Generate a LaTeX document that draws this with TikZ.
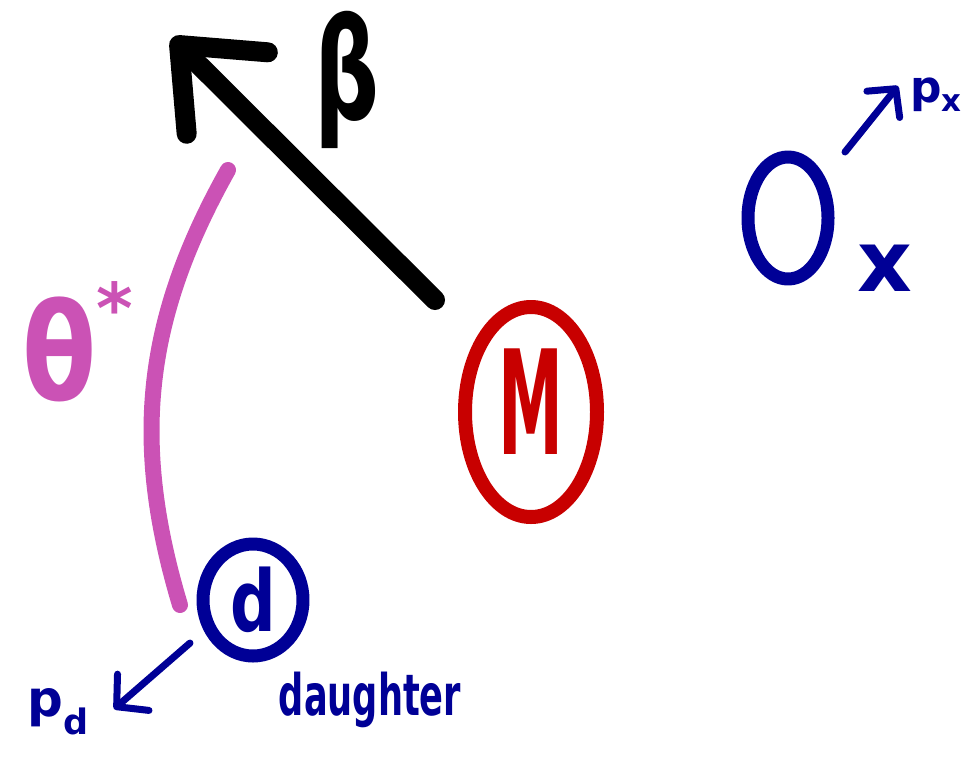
\documentclass[tikz,border=0pt]{standalone}
\usepackage{fontspec}
\setmainfont{DejaVu Sans}
\usetikzlibrary{arrows.meta, positioning, shapes.geometric}
\definecolor{penred}{RGB}{200,0,0}
\definecolor{penblue}{RGB}{0,0,150}
\definecolor{penpink}{RGB}{203,82,181}

\begin{document}
\begin{tikzpicture}[x=1pt, y=-1pt, line cap=round, line join=round,
  blob/.style={draw, ellipse, inner sep=0pt},
  scrawl/.style={inner sep=0pt, font=\bfseries}]

        \useasboundingbox (0,0) rectangle (965,758);

        % Nodes
        \node (M) [blob, penred, line width=14pt, minimum width=132pt, minimum height=210pt,
                   font=\bfseries\fontsize{145}{145}\selectfont] at (531,412) {\raisebox{20pt}{\scalebox{0.45}[1]{M}}};
        \node (d) [blob, penblue, line width=13pt, minimum width=100pt, minimum height=112pt,
                   font=\bfseries\fontsize{85}{85}\selectfont] at (253,600) {\scalebox{0.75}[1]{d}};
        \node (X) [blob, penblue, line width=13pt, minimum width=80pt, minimum height=122pt] at (788,218) {};

        % Free ends
        \coordinate (betatail) at (435,300);
        \coordinate (betahead) at (172,38);
        \coordinate (thtop) at (228,170);
        \coordinate (thbottom) at (180,605);
        \coordinate (pdtail) at (190,643);
        \coordinate (pdhead) at (114,709);
        \coordinate (pxtail) at (845,152);
        \coordinate (pxhead) at (898,86);

        % Labels
        \node (beta) [scrawl, font=\bfseries\fontsize{140}{140}\selectfont] at (347,80) {\scalebox{0.65}[1]{β}};
        \node (theta) [scrawl, penpink, font=\bfseries\fontsize{135}{135}\selectfont] at (78,342) {\scalebox{0.8}[1]{θ}\raisebox{0.5em}{\fontsize{70}{70}\selectfont*}};
        \node (pd) [scrawl, penblue, font=\bfseries\fontsize{50}{50}\selectfont] at (58,712) {p\textsubscript{d}};
        \node (px) [scrawl, penblue, font=\bfseries\fontsize{44}{44}\selectfont] at (936,95) {p\textsubscript{x}};
        \node (xlab) [scrawl, penblue, font=\bfseries\fontsize{85}{85}\selectfont] at (885,268) {x};
        \node (daughter) [scrawl, penblue, font=\bfseries\fontsize{44}{44}\selectfont] at (370,700) {\scalebox{0.8}[1.3]{daughter}};

        % Arrows
        \draw[line width=20pt, -{Straight Barb[length=68pt, width=115pt, round]}] (betatail) -- (betahead);
        \draw[penpink, line width=16pt] (thtop) to[bend right=23] (thbottom);
        \draw[penblue, line width=7pt, -{Straight Barb[length=22pt, width=48pt, round]}] (pdtail) -- (pdhead);
        \draw[penblue, line width=7pt, -{Straight Barb[length=20pt, width=42pt, round]}] (pxtail) -- (pxhead);

\end{tikzpicture}
\end{document}
